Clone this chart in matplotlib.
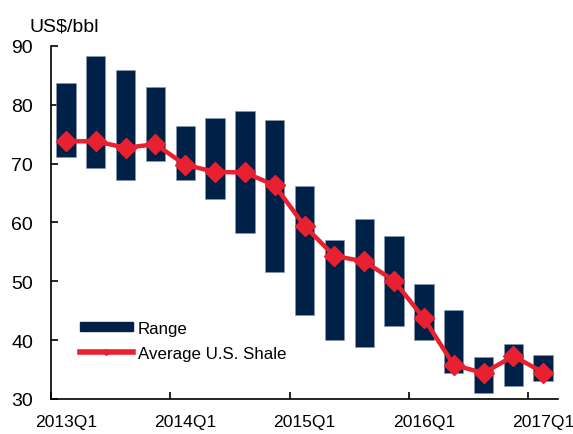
import numpy as np
import matplotlib.pyplot as plt
from matplotlib.lines import Line2D
from matplotlib.patches import Patch

plt.rcParams['font.family'] = ['Liberation Sans', 'DejaVu Sans']

# quarterly breakeven ranges and average, 2013Q1 .. 2017Q1
quarters = ['2013Q1', '2013Q2', '2013Q3', '2013Q4',
            '2014Q1', '2014Q2', '2014Q3', '2014Q4',
            '2015Q1', '2015Q2', '2015Q3', '2015Q4',
            '2016Q1', '2016Q2', '2016Q3', '2016Q4', '2017Q1']
range_high = [83.7, 88.3, 85.9, 83.0, 76.4, 77.8, 79.0, 77.4, 66.2,
              57.1, 60.6, 57.7, 49.5, 45.2, 37.1, 39.3, 37.5]
range_low = [71.2, 69.2, 67.3, 70.5, 67.3, 64.0, 58.2, 51.6, 44.3,
             40.1, 38.8, 42.4, 40.1, 34.5, 31.0, 32.2, 33.1]
average = [73.8, 73.8, 72.7, 73.3, 69.8, 68.6, 68.5, 66.3, 59.4,
           54.3, 53.4, 50.1, 43.7, 35.8, 34.4, 37.3, 34.5]
tick_labels = ['2013Q1', '2014Q1', '2015Q1', '2016Q1', '2017Q1']

navy = '#002147'
red = '#E8202F'

fig = plt.figure(figsize=(5.73, 4.35), dpi=100)
ax = fig.add_axes([0.089, 0.0805, 0.885, 0.8115])

x = np.arange(len(quarters))
hi = np.array(range_high)
lo = np.array(range_low)
ax.bar(x, hi - lo, bottom=lo, width=0.65, color=navy,
       edgecolor='#8a9bb0', linewidth=0.4, zorder=2)
ax.plot(x, average, color=red, lw=3.2, marker='D', markersize=10.5,
        zorder=3)

ax.set_xlim(-0.5, len(quarters) - 0.5)
ax.set_ylim(30, 90)
ax.set_yticks(range(30, 91, 10))
# ticks sit on category boundaries, labels centred on the yearly Q1 bar
ax.set_xticks([-0.5, 3.5, 7.5, 11.5, 15.5])
ax.set_xticklabels([])
ax.set_xticks(x[::4], minor=True)
ax.set_xticklabels(tick_labels, minor=True)
ax.tick_params(axis='x', which='minor', length=0, pad=11, labelsize=12.6)
ax.tick_params(direction='in', length=5, width=1.2)
ax.tick_params(axis='y', pad=13, labelsize=14)
for s in ['top', 'right']:
    ax.spines[s].set_visible(False)
for s in ['left', 'bottom']:
    ax.spines[s].set_linewidth(1.2)

fig.text(0.052, 0.918, 'US$/bbl', fontsize=14, ha='left', va='bottom')

handles = [Patch(facecolor=navy, edgecolor=navy),
           Line2D([0], [0], color=red, lw=4, marker='D', markersize=3)]
ax.legend(handles, ['Range', 'Average U.S. Shale'], loc='lower left',
          bbox_to_anchor=(0.044, 0.089), frameon=False, fontsize=12.2,
          handlelength=3.1, handleheight=0.5, handletextpad=0.3,
          labelspacing=0.6, borderaxespad=0)

fig.savefig('out.png', dpi=100)
